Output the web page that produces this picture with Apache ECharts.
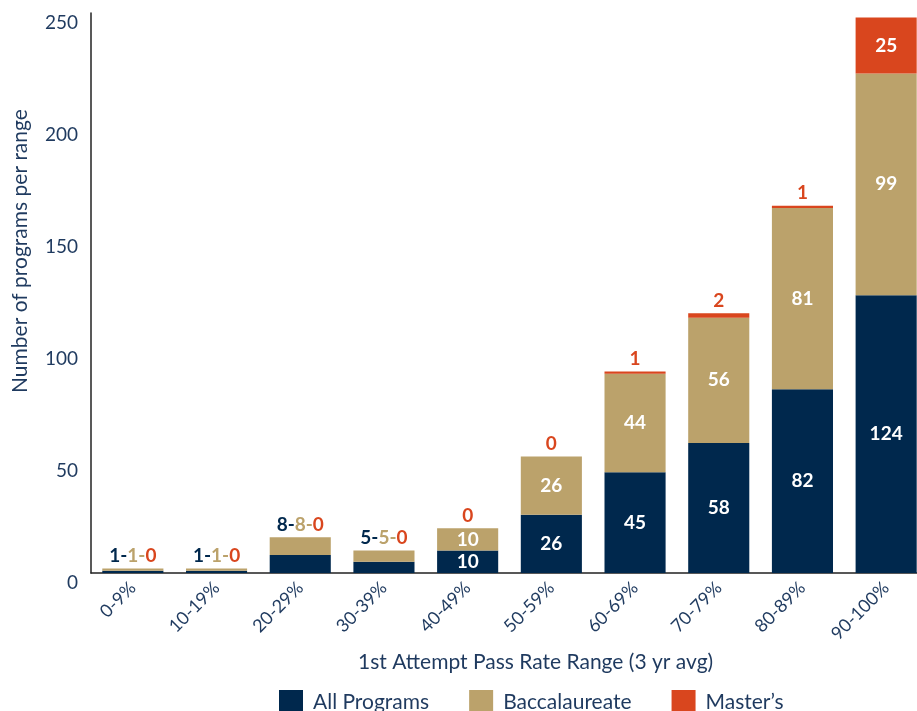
<!DOCTYPE html>
<html>
<head>
<meta charset="utf-8">
<script src="https://cdn.jsdelivr.net/npm/echarts@6/dist/echarts.min.js"></script>
<style>html,body{margin:0;padding:0;background:#fff;}#c{width:917px;height:711px;}</style>
</head>
<body>
<div id="c"></div>
<script>
const categories = ['0-9%','10-19%','20-29%','30-39%','40-49%','50-59%','60-69%','70-79%','80-89%','90-100%'];
const allPrograms = [1,1,8,5,10,26,45,58,82,124];
const baccalaureate = [1,1,8,5,10,26,44,56,81,99];
const masters = [0,0,0,0,0,0,1,2,1,25];
const yTicks = [0,50,100,150,200,250];
const smallCount = 4; // categories labelled with a combined "a-b-c" label

const NAVY = '#00284d', TAN = '#bba26b', ORANGE = '#d9461e', TXT = '#1f3a5f';
const FONT = 'Lato, "Noto Sans", sans-serif';
const LBL = 19;

const chart = echarts.init(document.getElementById('c'));
const innerLabel = {show:true, position:'inside', color:'#fff', fontWeight:'bold', fontSize:LBL, fontFamily:FONT};

chart.setOption({
  animation:false,
  grid:{left:91, width:837, top:13, bottom:138, outerBoundsMode:'none', containLabel:false},
  xAxis:{
    type:'category', data:categories,
    axisLine:{lineStyle:{color:'#222', width:1.5}},
    axisTick:{show:false},
    axisLabel:{rotate:45, color:TXT, fontSize:18, fontFamily:FONT, margin:12}
  },
  yAxis:{
    type:'value', min:0, max:250, interval:50,
    splitLine:{show:false},
    axisLine:{show:true, lineStyle:{color:'#222', width:1.5}},
    axisTick:{show:false},
    axisLabel:{color:TXT, fontSize:19, fontFamily:FONT, margin:13, verticalAlign:'top',
      formatter:v=> yTicks.includes(v) ? String(v) : ''}
  },
  legend:{
    left:274, top:685, icon:'rect', itemWidth:24, itemHeight:24, itemGap:40,
    textStyle:{color:TXT, fontSize:21, fontFamily:FONT, padding:[0,0,0,5]},
    data:['All Programs','Baccalaureate','Master\u2019s']
  },
  graphic:[
    {type:'text', left:358, top:652, style:{text:'1st Attempt Pass Rate Range (3 yr avg)', fill:TXT, font:'21px '+FONT}},
    {type:'text', x:10, y:393, rotation:Math.PI/2, style:{text:'Number of programs per range', fill:TXT, font:'21px '+FONT}}
  ],
  series:[
    {name:'All Programs', type:'bar', stack:'s', barWidth:'73%', itemStyle:{color:NAVY},
      data:allPrograms.map((v,i)=>({value:v, label:Object.assign({}, innerLabel, {show:i>=smallCount})}))},
    {name:'Baccalaureate', type:'bar', stack:'s', itemStyle:{color:TAN},
      data:baccalaureate.map((v,i)=>({value:v, label:Object.assign({}, innerLabel, {show:i>=smallCount})}))},
    {name:'Master\u2019s', type:'bar', stack:'s', itemStyle:{color:ORANGE},
      data:masters.map((v,i)=>{
        if(i<smallCount){
          const r = c=>({color:c,fontWeight:'bold',fontSize:LBL,fontFamily:FONT});
          return {value:v, label:{show:true, position:'top', distance:3, fontWeight:'bold', fontSize:LBL, fontFamily:FONT,
            formatter:()=>'{a|'+allPrograms[i]+'-}{b|'+baccalaureate[i]+'-}{c|'+v+'}',
            rich:{a:r(NAVY),b:r(TAN),c:r(ORANGE)}}};
        }
        if(v>=10){
          return {value:v, label:Object.assign({}, innerLabel)};
        }
        return {value:v, label:{show:true, position:'top', distance:3, color:ORANGE, fontWeight:'bold', fontSize:LBL, fontFamily:FONT}};
      })}
  ]
});
</script>
</body>
</html>
